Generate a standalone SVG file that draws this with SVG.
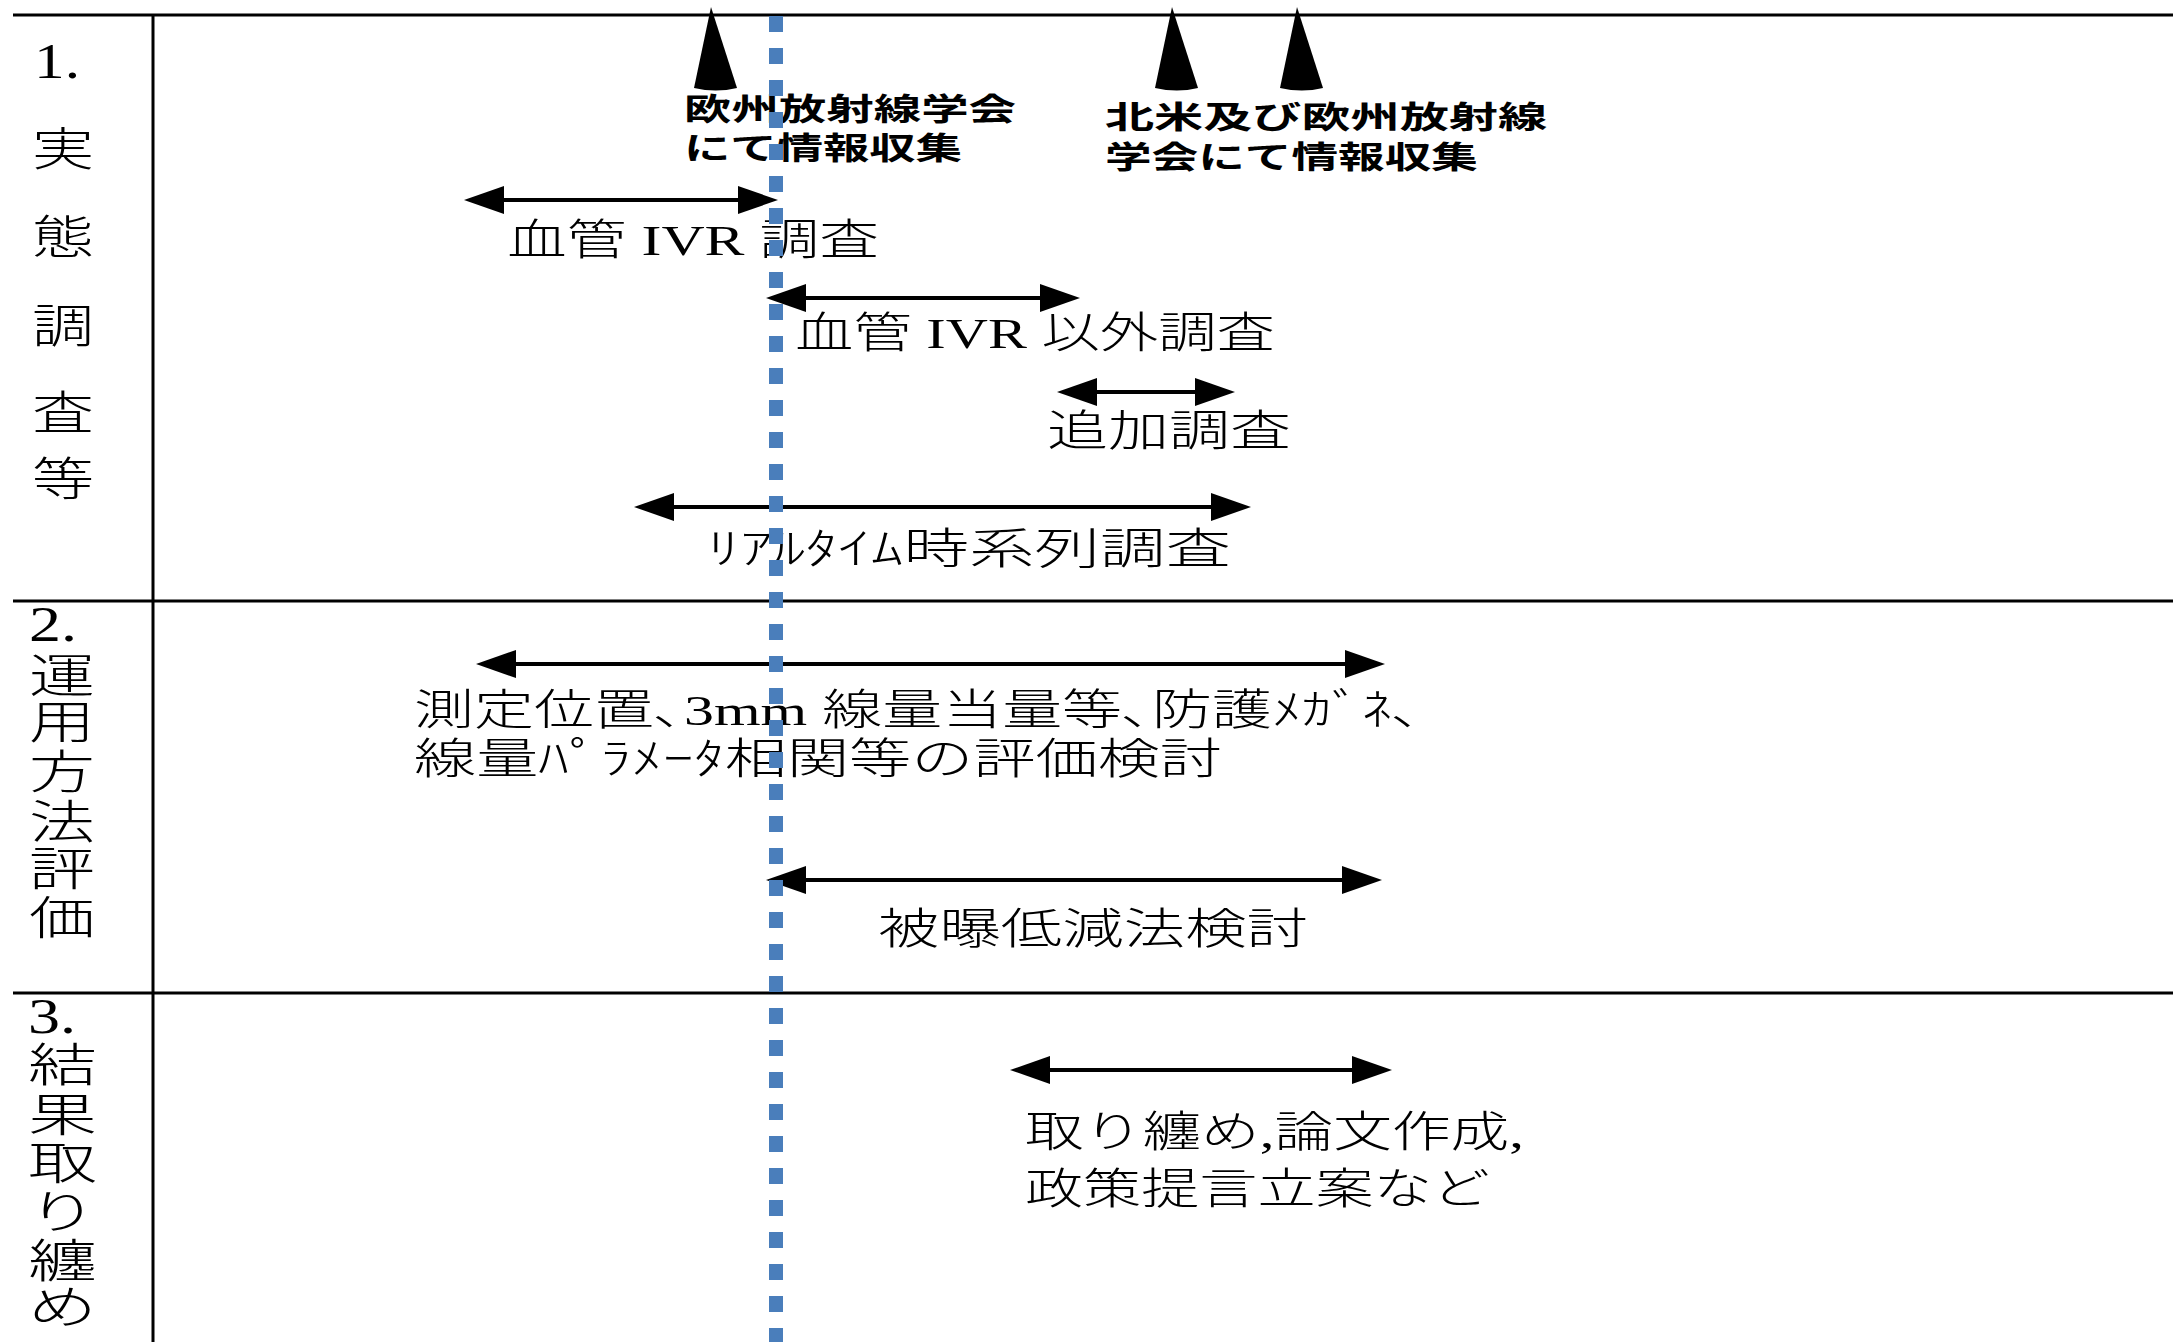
<svg xmlns="http://www.w3.org/2000/svg" xmlns:xlink="http://www.w3.org/1999/xlink" width="2173" height="1342" viewBox="0 0 2173 1342">
<defs>
<style>
.rule{stroke:#000;stroke-width:3;fill:none}
.mt{font-family:"Liberation Serif","Noto Sans CJK JP",serif;font-size:43px;fill:#000;font-weight:300}
.side{font-family:"Liberation Serif","Noto Sans CJK JP",serif;font-size:46px;fill:#000;font-weight:300}
.num{font-family:"Liberation Serif","Noto Sans CJK JP",serif;font-size:50px;fill:#000}
.gt{font-family:"Noto Sans CJK JP","Liberation Sans",sans-serif;font-size:31px;font-weight:bold;fill:#000}
.arr{stroke:#000;stroke-width:4;fill:none;marker-start:url(#ah);marker-end:url(#ah)}
.now{stroke:#4A7EBB;stroke-width:14;stroke-dasharray:16 16;fill:none}
</style>
<marker id="ah" markerUnits="userSpaceOnUse" markerWidth="42" markerHeight="30" refX="32" refY="14" orient="auto-start-reverse" viewBox="0 0 42 30" overflow="visible">
<path d="M0,0 L40,14 L0,28 Z" fill="#000"/>
</marker>
<path id="spike" d="M0,0 L26,81 Q5,86 -17,81 Z" fill="#000"/>
</defs>
<rect width="2173" height="1342" fill="#fff"/>

<g id="grid">
<line class="rule" x1="13" y1="15" x2="2173" y2="15"/>
<line class="rule" x1="13" y1="601" x2="2173" y2="601"/>
<line class="rule" x1="13" y1="993" x2="2173" y2="993"/>
<line class="rule" x1="153" y1="15" x2="153" y2="1342"/>
</g>

<g id="section-1">
<text class="num" x="34" y="78" textLength="46" lengthAdjust="spacingAndGlyphs">1.</text>
<text class="side" x="32" y="165" textLength="62" lengthAdjust="spacingAndGlyphs">実</text>
<text class="side" x="32" y="253" textLength="62" lengthAdjust="spacingAndGlyphs">態</text>
<text class="side" x="32" y="342" textLength="62" lengthAdjust="spacingAndGlyphs">調</text>
<text class="side" x="32" y="429" textLength="62" lengthAdjust="spacingAndGlyphs">査</text>
<text class="side" x="32" y="495" textLength="62" lengthAdjust="spacingAndGlyphs">等</text>
</g>
<g id="section-2">
<text class="num" x="29" y="641" textLength="48" lengthAdjust="spacingAndGlyphs">2.</text>
<text class="side" x="29" y="692" textLength="66" lengthAdjust="spacingAndGlyphs">運</text>
<text class="side" x="29" y="738" textLength="66" lengthAdjust="spacingAndGlyphs">用</text>
<text class="side" x="29" y="788" textLength="66" lengthAdjust="spacingAndGlyphs">方</text>
<text class="side" x="29" y="838" textLength="66" lengthAdjust="spacingAndGlyphs">法</text>
<text class="side" x="29" y="885" textLength="66" lengthAdjust="spacingAndGlyphs">評</text>
<text class="side" x="29" y="934" textLength="66" lengthAdjust="spacingAndGlyphs">価</text>
</g>
<g id="section-3">
<text class="num" x="28" y="1033" textLength="48" lengthAdjust="spacingAndGlyphs">3.</text>
<text class="side" x="28" y="1081" textLength="69" lengthAdjust="spacingAndGlyphs">結</text>
<text class="side" x="28" y="1131" textLength="69" lengthAdjust="spacingAndGlyphs">果</text>
<text class="side" x="28" y="1179" textLength="69" lengthAdjust="spacingAndGlyphs">取</text>
<text class="side" x="28" y="1228" textLength="69" lengthAdjust="spacingAndGlyphs">り</text>
<text class="side" x="28" y="1277" textLength="69" lengthAdjust="spacingAndGlyphs">纏</text>
<text class="side" x="28" y="1323" textLength="69" lengthAdjust="spacingAndGlyphs">め</text>
</g>

<g id="milestone-europe">
<use xlink:href="#spike" href="#spike" transform="translate(711,7)"/>
<text class="gt" x="684" y="120" textLength="332" lengthAdjust="spacingAndGlyphs">欧州放射線学会</text>
<text class="gt" x="684" y="159" textLength="278" lengthAdjust="spacingAndGlyphs">にて情報収集</text>
</g>
<g id="milestone-na-europe">
<use xlink:href="#spike" href="#spike" transform="translate(1172,7)"/>
<use xlink:href="#spike" href="#spike" transform="translate(1297,7)"/>
<text class="gt" x="1105" y="128" textLength="442" lengthAdjust="spacingAndGlyphs">北米及び欧州放射線</text>
<text class="gt" x="1105" y="168" textLength="373" lengthAdjust="spacingAndGlyphs">学会にて情報収集</text>
</g>

<g id="task-vascular-ivr">
<text class="mt" x="507" y="255" textLength="372" lengthAdjust="spacingAndGlyphs">血管 IVR 調査</text>
</g>
<g id="task-nonvascular-ivr">
<text class="mt" x="795" y="348" textLength="480" lengthAdjust="spacingAndGlyphs">血管 IVR 以外調査</text>
</g>
<g id="task-additional">
<text class="mt" x="1047" y="446" textLength="244" lengthAdjust="spacingAndGlyphs">追加調査</text>
</g>
<g id="task-realtime">
<text class="mt" x="707" y="564" textLength="524" lengthAdjust="spacingAndGlyphs">ﾘｱﾙﾀｲﾑ時系列調査</text>
</g>
<g id="task-evaluation">
<text class="mt" x="414" y="725" textLength="1008" lengthAdjust="spacingAndGlyphs">測定位置､3mm 線量当量等､防護ﾒｶﾞﾈ､</text>
<text class="mt" x="414" y="774" textLength="808" lengthAdjust="spacingAndGlyphs">線量ﾊﾟﾗﾒｰﾀ相関等の評価検討</text>
</g>
<g id="task-reduction">
<text class="mt" x="878" y="944" textLength="430" lengthAdjust="spacingAndGlyphs">被曝低減法検討</text>
</g>
<g id="task-summary">
<text class="mt" x="1025" y="1147" textLength="499" lengthAdjust="spacingAndGlyphs">取り纏め,論文作成,</text>
<text class="mt" x="1025" y="1204" textLength="465" lengthAdjust="spacingAndGlyphs">政策提言立案など</text>
</g>

<g id="connectors">
<line class="arr" x1="472" y1="200" x2="770" y2="200"/>
<line class="arr" x1="774" y1="298" x2="1072" y2="298"/>
<line class="arr" x1="1065" y1="392" x2="1227" y2="392"/>
<line class="arr" x1="642" y1="507" x2="1243" y2="507"/>
<line class="arr" x1="484" y1="664" x2="1377" y2="664"/>
<line class="arr" x1="774" y1="880" x2="1374" y2="880"/>
<line class="arr" x1="1018" y1="1070" x2="1384" y2="1070"/>
</g>

<g id="today-line">
<line class="now" x1="776" y1="-16" x2="776" y2="1342"/>
</g>
</svg>
